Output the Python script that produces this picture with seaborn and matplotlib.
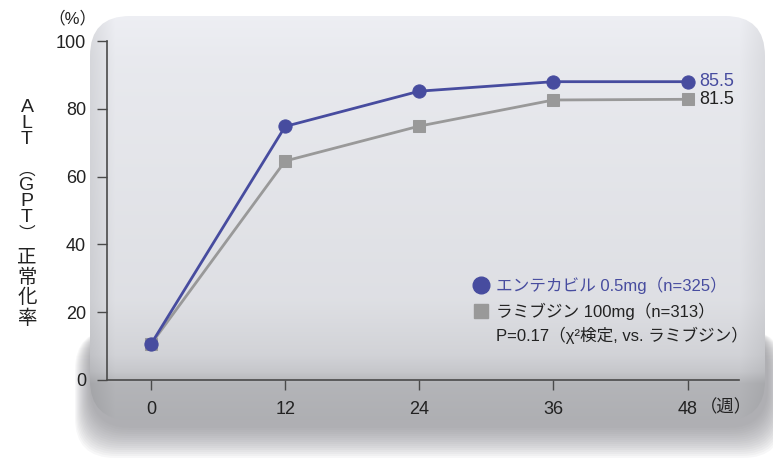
import numpy as np
import pandas as pd
import matplotlib
matplotlib.use("Agg")
import matplotlib.pyplot as plt
from matplotlib.patches import FancyBboxPatch
import seaborn as sns

# Data
weeks = [0, 12, 24, 36, 48]
entecavir = [10.6, 74.8, 85.2, 88.0, 88.0]
lamivudine = [10.6, 64.6, 74.9, 82.6, 82.8]
end_labels = ["85.5", "81.5"]
x_ticks = [0, 12, 24, 36, 48]
y_ticks = [0, 20, 40, 60, 80, 100]

df = pd.DataFrame({"week": weeks, "ent": entecavir, "lam": lamivudine})

sns.set_style("ticks")
plt.rcParams["font.family"] = ["Liberation Sans", "Noto Sans CJK JP", "DejaVu Sans"]

BLUE = "#474c9f"
GREY = "#999999"
DARK = "#222222"

W, H = 773, 459
fig = plt.figure(figsize=(W / 100, H / 100), dpi=100)

# background "pillow" drawn in pixel coordinates
bg = fig.add_axes([0, 0, 1, 1], zorder=0)
bg.set_xlim(0, W)
bg.set_ylim(H, 0)
bg.axis("off")

# soft shadow under the pillow
for i in range(16):
    sh = FancyBboxPatch((90 - i * 1.0, 330), 678 + i * 2.0, 98 + i * 2.0,
                        boxstyle="round,pad=0,rounding_size=40",
                        fc="#86868c", ec="none", alpha=0.06, zorder=0.5)
    bg.add_patch(sh)

x0, y0, x1, y1 = 90, 16, 765, 420
face = FancyBboxPatch((x0, y0), x1 - x0, y1 - y0,
                      boxstyle="round,pad=0,rounding_size=40",
                      fc="none", ec="none")
bg.add_patch(face)
ys = np.arange(y0, y1 + 1)
stops_y = [16, 60, 300, 355, 372, 384, 420]
stops_v = [0.945, 0.925, 0.885, 0.835, 0.79, 0.715, 0.695]
col = np.interp(ys, stops_y, stops_v)
xs = np.arange(x0, x1 + 1)
edge = 1 - 0.08 * np.clip(1 - (xs - x0) / 25, 0, 1) - 0.06 * np.clip(1 - (x1 - xs) / 25, 0, 1)
img = col[:, None] * edge[None, :]
rgb = np.stack([img * 0.985, img * 0.99, img * 1.01], axis=-1).clip(0, 1)
im = bg.imshow(rgb, extent=(x0, x1, y1, y0), aspect="auto",
               interpolation="bilinear", zorder=1)
im.set_clip_path(face)

# main chart axes
ax = fig.add_axes([107 / W, 1 - 380 / H, (739 - 107) / W, (380 - 41) / H], zorder=1)
ax.patch.set_alpha(0)

sns.lineplot(data=df, x="week", y="lam", ax=ax, color=GREY, lw=2.0,
             marker="s", markersize=9, markeredgecolor=GREY, zorder=3)
sns.lineplot(data=df, x="week", y="ent", ax=ax, color=BLUE, lw=2.0,
             marker="o", markersize=9.5, markeredgecolor=BLUE, zorder=4)

ax.set_xlim(-3.94, 52.6)
ax.set_ylim(0, 100)
ax.set_xticks(x_ticks)
ax.set_yticks(y_ticks)
ax.set_xlabel("")
ax.set_ylabel("")
for s in ["top", "right"]:
    ax.spines[s].set_visible(False)
for s in ["left", "bottom"]:
    ax.spines[s].set_color("#4a4a4a")
    ax.spines[s].set_linewidth(1.2)
ax.tick_params(axis="y", length=7, width=1, color="#4a4a4a", pad=8,
               labelsize=13, labelcolor=DARK)
ax.tick_params(axis="x", length=7, width=1, color="#4a4a4a", pad=8,
               labelsize=13, labelcolor=DARK)

# end-of-line value labels
ax.text(49.0, entecavir[-1], end_labels[0], color=BLUE, fontsize=13,
        va="center", ha="left")
ax.text(49.0, lamivudine[-1], end_labels[1], color=DARK, fontsize=13,
        va="center", ha="left")

# unit labels
bg.text(72, 18, "（%）", fontsize=12, color=DARK, ha="center", va="center")
bg.text(700, 407, "（週）", fontsize=12.5, color=DARK, ha="left", va="center")

# vertical y-axis title
chars = ["A", "L", "T", "︵", "G", "P", "T", "︶", "正", "常", "化", "率"]
char_y = [108, 124, 140, 170, 186, 202, 218, 234, 258, 278, 298, 319]
for c, yy in zip(chars, char_y):
    bg.text(27, yy, c, fontsize=14 if len(c.encode()) == 1 or c in "正常化率" else 12,
            color=DARK, ha="center", va="center")

# legend block
bg.plot([481], [285], marker="o", ms=12, color=BLUE, ls="none", zorder=3)
bg.text(496, 285, "エンテカビル 0.5mg（n=325）", fontsize=12, color=BLUE,
        ha="left", va="center", zorder=3)
bg.plot([481], [311], marker="s", ms=10, color=GREY, ls="none", zorder=3)
bg.text(496, 311, "ラミブジン 100mg（n=313）", fontsize=12, color=DARK,
        ha="left", va="center", zorder=3)
bg.text(496, 335, "P=0.17（χ²検定, vs. ラミブジン）", fontsize=12, color=DARK,
        ha="left", va="center", zorder=3)

fig.savefig("out.png", dpi=100)
